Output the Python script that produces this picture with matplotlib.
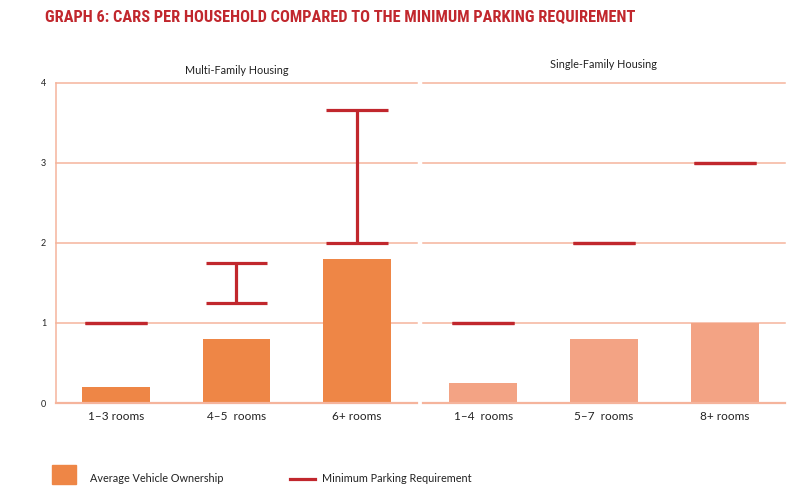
import matplotlib
matplotlib.use("Agg")
import matplotlib.pyplot as plt
from matplotlib import font_manager
from matplotlib.patches import Rectangle
from matplotlib.lines import Line2D

# ---- data ----
multi_categories = ["1\u20133 rooms", "4\u20135  rooms", "6+ rooms"]
multi_ownership = [0.2, 0.8, 1.8]
multi_req_low = [1.0, 1.25, 2.0]
multi_req_high = [1.0, 1.75, 3.66]

single_categories = ["1\u20134  rooms", "5\u20137  rooms", "8+ rooms"]
single_ownership = [0.25, 0.8, 1.0]
single_req_low = [1.0, 2.0, 3.0]
single_req_high = [1.0, 2.0, 3.0]

y_ticks = [0, 1, 2, 3, 4]

title_text = "GRAPH 6: CARS PER HOUSEHOLD COMPARED TO THE MINIMUM PARKING REQUIREMENT"
panel_titles = ["Multi-Family Housing", "Single-Family Housing"]
legend_labels = ["Average Vehicle Ownership", "Minimum Parking Requirement"]

# ---- styles ----
RED = "#C1272D"
ORANGE = "#EE8646"
SALMON = "#F3A384"
GRID = "#F5B49C"
TEXT = "#222222"

available = {f.name for f in font_manager.fontManager.ttflist}
body_font = "Lato" if "Lato" in available else "DejaVu Sans"
title_font = body_font
for cand in ["Roboto Condensed", "Liberation Sans Narrow", "DejaVu Sans Condensed"]:
    if cand in available:
        title_font = cand
        break

plt.rcParams["font.family"] = [body_font, "DejaVu Sans"]

W, H = 801, 494
fig = plt.figure(figsize=(W / 100, H / 100), dpi=100)

def fx(px):
    return px / W

def fy(py):
    return 1 - py / H

ax_top, ax_bot = 83, 403
axL = fig.add_axes([fx(56), fy(ax_bot), fx(417 - 56), (ax_bot - ax_top) / H])
axR = fig.add_axes([fx(423), fy(ax_bot), fx(785 - 423), (ax_bot - ax_top) / H])

panels = [
    (axL, multi_categories, multi_ownership, multi_req_low, multi_req_high, ORANGE, True, 71),
    (axR, single_categories, single_ownership, single_req_low, single_req_high, SALMON, False, 65),
]

LW_RED = 2.3
for i, (ax, cats, own, lo, hi, color, show_y, title_y) in enumerate(panels):
    x = list(range(len(cats)))
    ax.set_xlim(-0.5, len(cats) - 0.5)
    ax.set_ylim(0, 4)
    for yv in y_ticks[1:]:
        ax.axhline(yv, color=GRID, lw=1.1, zorder=1, clip_on=False)
    ax.bar(x, own, width=0.565, color=color, zorder=2)
    cap = 0.515
    for xi, l, h in zip(x, lo, hi):
        ax.hlines([l, h], xi - cap / 2, xi + cap / 2, color=RED, lw=LW_RED, zorder=3)
        if h != l:
            ax.vlines(xi, l, h, color=RED, lw=LW_RED, zorder=3)
    for s in ["top", "right"]:
        ax.spines[s].set_visible(False)
    ax.spines["bottom"].set_color(GRID)
    ax.spines["bottom"].set_linewidth(1.6)
    if show_y:
        ax.spines["left"].set_color(GRID)
        ax.spines["left"].set_linewidth(1.1)
        ax.set_yticks(y_ticks)
        ax.set_yticklabels([str(v) for v in y_ticks], fontsize=6.5, color=TEXT)
        ax.tick_params(axis="y", length=0, pad=7)
    else:
        ax.spines["left"].set_visible(False)
        ax.set_yticks([])
    ax.set_xticks(x)
    ax.set_xticklabels(cats, fontsize=8.5, color=TEXT)
    ax.tick_params(axis="x", length=0, pad=6)
    bb = ax.get_position()
    fig.text((bb.x0 + bb.x1) / 2, fy(title_y), panel_titles[i], ha="center", va="center",
             fontsize=7.8, color=TEXT)

# main title
t = fig.text(fx(45), fy(17), title_text, ha="left", va="center", fontsize=10.5,
             fontweight="bold", color=RED, family=[title_font, "DejaVu Sans"])
fig.canvas.draw()
r = fig.canvas.get_renderer()
wpx = t.get_window_extent(r).width
target = 636 - 45
if abs(wpx - target) > 8:
    t.set_fontsize(10.5 * target / wpx)

# legend
fig.patches.append(Rectangle((fx(52), fy(484)), fx(76 - 52), (484 - 465) / H,
                             transform=fig.transFigure, color=ORANGE))
fig.text(fx(90), fy(478), legend_labels[0], ha="left", va="center", fontsize=7.8, color=TEXT)
fig.lines.append(Line2D([fx(290), fx(315)], [fy(479), fy(479)], transform=fig.transFigure,
                        color=RED, lw=LW_RED))
fig.text(fx(322), fy(478), legend_labels[1], ha="left", va="center", fontsize=7.8, color=TEXT)

fig.savefig("out.png", dpi=100)
